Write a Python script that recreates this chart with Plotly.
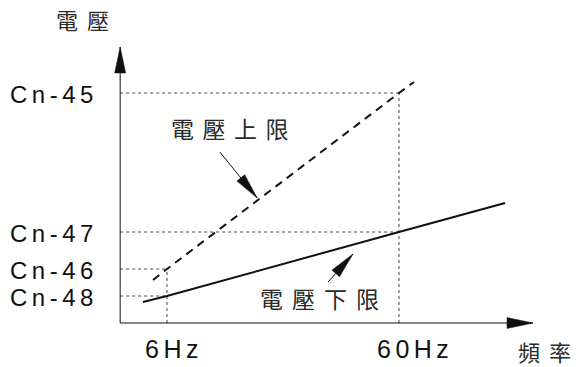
"""Voltage limits vs. frequency schematic (電壓上限 / 電壓下限)."""

import math

import plotly.graph_objects as go

# Frequency reference points (Hz) and their labels
FREQ_TICKS = [6, 60]
FREQ_LABELS = ["6Hz", "60Hz"]

# Voltage parameter levels (arbitrary units)
VOLT_NAMES = ["Cn-45", "Cn-47", "Cn-46", "Cn-48"]
VOLT_LEVELS = [230, 91, 54, 27]

# Upper voltage limit (dashed)
UPPER_FREQ = [2.75, 6, 60, 63.5]
UPPER_VOLT = [43, 54, 230, 241]

# Lower voltage limit (solid)
LOWER_FREQ = [0.4, 6, 60, 84.7]
LOWER_VOLT = [21, 27, 91, 120]

# Axis extents
AXIS_FREQ_MIN = -4.9
AXIS_FREQ_MAX = 91.2
AXIS_VOLT_MAX = 276

# Figure geometry
WIDTH, HEIGHT = 577, 367
X_RANGE = [-32.87, 101.44]
Y_RANGE = [-44, 323]
PX_X = WIDTH / (X_RANGE[1] - X_RANGE[0])
PX_Y = HEIGHT / (Y_RANGE[1] - Y_RANGE[0])

LATIN = "Liberation Sans, Arial, sans-serif"
CJK = "Noto Sans CJK TC, Noto Sans CJK SC, sans-serif"
INK = "#111111"
CJK_INK = "#2a2a2a"
GRID = "#444444"

# label nudges (Hz) so the text sits where the drawing has it
FREQ_LABEL_NUDGE = {"6Hz": 1.7, "60Hz": 3.7}


def spaced(text, px):
    return f'<span style="letter-spacing:{px}px">{text}</span>'


def arrow(fig, tail, tip, width=1.0, head_len=26, head_w=11):
    """Thin line from tail to tip with a long, narrow filled head."""
    fig.add_shape(type="line", x0=tail[0], y0=tail[1], x1=tip[0], y1=tip[1],
                  line=dict(color=INK, width=width))
    dx = (tip[0] - tail[0]) * PX_X
    dy = (tip[1] - tail[1]) * PX_Y
    n = math.hypot(dx, dy)
    ux, uy = dx / n, dy / n
    bx, by = -ux * head_len, -uy * head_len
    px, py = -uy * head_w / 2, ux * head_w / 2
    path = (f"M0,0 L{bx + px:.2f},{by + py:.2f} "
            f"L{bx - px:.2f},{by - py:.2f} Z")
    fig.add_shape(type="path", path=path,
                  xsizemode="pixel", xanchor=tip[0],
                  ysizemode="pixel", yanchor=tip[1],
                  fillcolor=INK, line=dict(color=INK, width=0.5))


fig = go.Figure()

# Dotted reference lines
volt = dict(zip(VOLT_NAMES, VOLT_LEVELS))
guides = [("Cn-45", 60), ("Cn-47", 60), ("Cn-46", 6), ("Cn-48", 6)]
for name, f in guides:
    fig.add_trace(go.Scatter(
        x=[AXIS_FREQ_MIN, f], y=[volt[name], volt[name]], mode="lines",
        line=dict(color=GRID, width=1, dash="dot"), hoverinfo="skip",
    ))
for f, top in [(6, volt["Cn-46"]), (60, volt["Cn-45"])]:
    fig.add_trace(go.Scatter(
        x=[f, f], y=[0, top], mode="lines",
        line=dict(color=GRID, width=1, dash="dot"), hoverinfo="skip",
    ))

fig.add_trace(go.Scatter(
    x=UPPER_FREQ, y=UPPER_VOLT, mode="lines",
    line=dict(color=INK, width=2, dash="8px,6px"), hoverinfo="skip",
))
fig.add_trace(go.Scatter(
    x=LOWER_FREQ, y=LOWER_VOLT, mode="lines",
    line=dict(color=INK, width=2), hoverinfo="skip",
))

# Axes
arrow(fig, (AXIS_FREQ_MIN, 0), (AXIS_FREQ_MIN, AXIS_VOLT_MAX))
arrow(fig, (AXIS_FREQ_MIN, 0), (AXIS_FREQ_MAX, 0))

# Level labels
for name, v in zip(VOLT_NAMES, VOLT_LEVELS):
    fig.add_annotation(
        x=AXIS_FREQ_MIN - 4.8, y=v - 1, text=spaced(name, 4.5), showarrow=False,
        xanchor="right", yanchor="middle",
        font=dict(family=LATIN, size=24, color=INK),
    )

# Frequency labels
for f, lab in zip(FREQ_TICKS, FREQ_LABELS):
    fig.add_annotation(
        x=f + FREQ_LABEL_NUDGE[lab], y=-10, text=spaced(lab, 4.5), showarrow=False,
        xanchor="center", yanchor="top",
        font=dict(family=LATIN, size=25, color=INK),
    )

# Axis titles
fig.add_annotation(x=AXIS_FREQ_MIN - 7.8, y=AXIS_VOLT_MAX + 10, text=spaced("電壓", 9),
                   showarrow=False, xanchor="center", yanchor="bottom",
                   font=dict(family=CJK, size=22, color=CJK_INK))
fig.add_annotation(x=87.3, y=-10, text=spaced("頻", 9) + "率",
                   showarrow=False, xanchor="left", yanchor="top",
                   font=dict(family=CJK, size=22, color=CJK_INK))

# Curve callouts
fig.add_annotation(x=21.6, y=195, text=spaced("電壓上限", 8.5), showarrow=False,
                   font=dict(family=CJK, size=23, color=CJK_INK))
arrow(fig, (18.3, 171), (27.0, 125), head_len=26, head_w=10)
fig.add_annotation(x=42.6, y=25, text=spaced("電壓下限", 9), showarrow=False,
                   font=dict(family=CJK, size=23, color=CJK_INK))
arrow(fig, (43.5, 41), (49.3, 69), head_len=26, head_w=10)

fig.update_layout(
    width=WIDTH, height=HEIGHT, autosize=False,
    margin=dict(l=0, r=0, t=0, b=0),
    paper_bgcolor="white", plot_bgcolor="white",
    showlegend=False,
    xaxis=dict(range=X_RANGE, visible=False, fixedrange=True),
    yaxis=dict(range=Y_RANGE, visible=False, fixedrange=True),
)

fig.write_html("out.html", config={"displayModeBar": False},
               post_script="document.body.style.margin = '0';")
